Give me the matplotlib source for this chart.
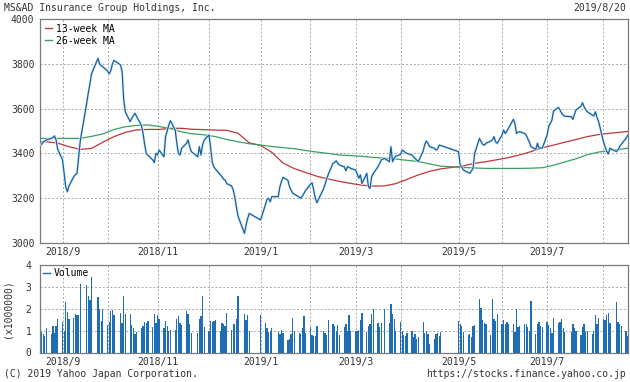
import pandas as pd
import matplotlib
matplotlib.use('Agg')
import matplotlib.pyplot as plt
import matplotlib.patheffects as pe
from matplotlib.lines import Line2D

# Tokyo market holidays inside the window
holidays = ['2018-09-17', '2018-09-24', '2018-10-08', '2018-11-23', '2018-12-24',
            '2018-12-31', '2019-01-01', '2019-01-02', '2019-01-03', '2019-01-14',
            '2019-02-11', '2019-03-21', '2019-04-29', '2019-04-30', '2019-05-01',
            '2019-05-02', '2019-05-03', '2019-05-06', '2019-07-15', '2019-08-12']

# daily close, one row per week
close = [
    3440, 3452, 3455, 3460,
    3467, 3470, 3478, 3460, 3418,
    3371, 3311, 3250, 3229, 3255,
    3296, 3305, 3311, 3385, 3455,
    3624, 3670, 3710, 3755,
    3824, 3800, 3792, 3787,
    3768, 3755, 3770, 3800, 3815,
    3795, 3765, 3640, 3585,
    3542, 3556, 3568, 3579, 3565,
    3525, 3490, 3440, 3400, 3392,
    3371, 3359, 3400, 3393, 3415,
    3385, 3475, 3500, 3527, 3546,
    3504, 3445, 3400, 3393, 3423,
    3445, 3460, 3430, 3408,
    3385, 3430, 3393, 3438, 3460,
    3482, 3425, 3360, 3340, 3330,
    3305, 3296, 3285, 3281, 3265,
    3255, 3237, 3205, 3160, 3120,
    3043, 3080, 3110, 3132,
    3103,
    3170, 3195, 3199, 3184, 3207,
    3207, 3251, 3275, 3293,
    3280, 3251, 3235, 3222, 3218,
    3205, 3199, 3210, 3222, 3235,
    3262, 3269, 3237, 3200, 3180,
    3240, 3260, 3284, 3305,
    3356, 3360, 3367, 3355, 3348,
    3340, 3323, 3341, 3338, 3333,
    3326, 3310, 3289, 3304, 3266,
    3311, 3251, 3244, 3296, 3310,
    3341, 3355, 3371, 3378,
    3363, 3430, 3363, 3378, 3388,
    3395, 3415, 3410, 3403, 3400,
    3393, 3385, 3378, 3370, 3363,
    3410, 3440, 3455, 3445, 3430,
    3423, 3415, 3420, 3437, 3435,
    3408, 3348, 3340, 3326,
    3315, 3311, 3322, 3333, 3400,
    3467, 3452, 3440, 3437, 3445,
    3455, 3460, 3475, 3452, 3445,
    3482, 3504, 3489, 3500, 3512,
    3552, 3534, 3489, 3495, 3497,
    3489, 3482, 3465, 3450, 3430,
    3418, 3445, 3423, 3425, 3423,
    3482, 3520, 3534, 3549, 3590,
    3605, 3594, 3580, 3571, 3566,
    3564, 3552, 3575, 3594,
    3610, 3626, 3608, 3595, 3586,
    3572, 3567, 3586, 3560, 3542,
    3452, 3430, 3410, 3397, 3423,
    3408, 3415, 3430, 3440,
    3467, 3480,
]

# daily volume (x1000000)
volume = [
    0.95, 0.85, 0.75, 1.1,
    0.85, 1.2, 0.9, 1.2, 1.55,
    1.4, 1.0, 2.3, 1.85, 1.55,
    1.6, 1.75, 1.7, 1.72, 3.15,
    3.1, 2.6, 2.4, 3.45,
    2.55, 2.0, 1.45, 2.0,
    1.25, 1.4, 1.9, 1.95, 1.7,
    1.8, 1.35, 2.6, 1.75,
    1.75, 1.25, 1.1, 0.85, 0.95,
    1.1, 1.2, 1.4, 1.35, 1.45,
    1.15, 1.75, 1.35, 1.7, 1.55,
    1.1, 1.45, 1.2, 1.0, 1.05,
    1.05, 1.55, 1.65, 1.35, 1.25,
    1.9, 1.75, 1.3, 0.9,
    0.9, 1.55, 1.65, 2.6, 1.15,
    1.0, 1.45, 1.4, 1.45, 1.5,
    1.0, 1.35, 1.3, 1.2, 1.8,
    1.05, 1.3, 1.3, 1.55, 2.6,
    1.75, 1.5, 1.7, 1.0,
    1.7,
    1.35, 1.1, 0.95, 1.0, 1.1,
    0.95, 0.85, 1.05, 0.9,
    0.55, 0.6, 0.85, 1.6, 1.0,
    0.9, 0.85, 1.1, 1.65, 0.9,
    1.15, 0.8, 0.75, 0.75, 1.2,
    1.0, 0.9, 0.8, 1.5,
    1.3, 1.2, 1.0, 1.25, 0.8,
    1.15, 1.3, 1.0, 1.7, 1.0,
    1.0, 1.0, 1.05, 1.5, 1.8,
    0.95, 1.2, 1.3, 1.75, 2.0,
    1.35, 1.15, 1.35, 2.0,
    1.35, 2.2, 1.75, 1.55, 1.0,
    1.4, 1.0, 0.8, 0.75, 0.9,
    1.0, 0.7, 0.85, 0.6, 0.7,
    1.4, 0.9, 1.0, 0.85, 0.4,
    0.6, 0.85, 0.9, 0.75, 0.95,
    1.45, 1.3, 1.2, 0.95,
    0.8, 0.85, 0.7, 1.2, 1.25,
    2.45, 2.05, 1.5, 1.35, 1.3,
    0.8, 2.45, 1.55, 1.45, 1.75,
    1.3, 1.5, 1.3, 1.4, 1.3,
    1.3, 0.95, 2.0, 1.15, 1.2,
    1.3, 1.3, 1.15, 1.0, 2.35,
    0.85, 1.3, 1.4, 1.2, 1.15,
    1.4, 1.25, 1.1, 0.9, 1.6,
    1.35, 1.4, 1.55, 1.1, 0.95,
    0.95, 1.3, 1.1, 1.0,
    0.8, 1.15, 1.3, 0.95, 1.0,
    0.85, 1.0, 1.7, 1.3, 1.6,
    1.55, 1.5, 1.7, 1.8, 1.35,
    2.3, 1.4, 1.3, 1.2,
    1.0, 0.75,
]

# moving averages: first day, then last trading day of every week
ma13 = [3452, 3452, 3446, 3430, 3418, 3422, 3450, 3475, 3494, 3505,
        3507, 3507, 3512, 3512, 3508, 3506, 3504, 3503, 3490, 3447,
        3436, 3405, 3357, 3332, 3315, 3298, 3286, 3275, 3266, 3258,
        3254, 3255, 3265, 3284, 3304, 3320, 3331, 3344, 3356, 3363,
        3372, 3381, 3393, 3408, 3425, 3437, 3450, 3462, 3475, 3484,
        3490, 3495, 3498]
ma26 = [3467, 3467, 3467, 3467, 3467, 3476, 3487, 3507, 3519, 3525,
        3527, 3520, 3511, 3496, 3488, 3483, 3475, 3462, 3452, 3443,
        3437, 3431, 3426, 3421, 3413, 3406, 3400, 3393, 3390, 3387,
        3382, 3379, 3375, 3369, 3364, 3353, 3343, 3337, 3335, 3333,
        3333, 3333, 3333, 3334, 3336, 3347, 3362, 3376, 3394, 3406,
        3413, 3419, 3423]

grid_dates = ['2018-09-03', '2018-10-01', '2018-11-01', '2018-12-03', '2019-01-04', '2019-02-04',
              '2019-03-04', '2019-04-01', '2019-05-07', '2019-06-03', '2019-07-01', '2019-08-05']
grid_labels = ['2018/9', '', '2018/11', '', '2019/1', '', '2019/3', '', '2019/5', '', '2019/7', '']

dates = pd.bdate_range('2018-08-21', '2019-08-20')
dates = dates[~dates.isin(pd.to_datetime(holidays))]
d = pd.Series(dates)
week_last = d.groupby(d.dt.to_period('W')).last()
ma_dates = [dates[0]] + list(week_last)

plt.rcParams['font.family'] = 'DejaVu Sans Mono'
plt.rcParams['font.size'] = 7

W, H = 630, 382
fig = plt.figure(figsize=(W / 100, H / 100), dpi=100)
fig.patch.set_facecolor('white')

ax = fig.add_axes([40 / W, (H - 243) / H, 588 / W, 224 / H])
axv = fig.add_axes([40 / W, (H - 352.5) / H, 588 / W, 87.5 / H])

xlim = (pd.Timestamp('2018-08-20'), pd.Timestamp('2019-08-20 06:00'))
gd = pd.to_datetime(grid_dates)

for a in (ax, axv):
    a.set_xlim(xlim)
    a.set_xticks(gd)
    a.set_xticklabels(grid_labels)
    a.grid(True, color='#a8a8a8', linestyle=(0, (2, 2)), linewidth=0.7)
    a.set_axisbelow(True)
    a.tick_params(length=0, pad=3, labelcolor='#333333', labelsize=7)
    for s in a.spines.values():
        s.set_color('#7a7a7a')
        s.set_linewidth(0.9)

# price panel
ax.plot(ma_dates, ma13, color='#c0363a', linewidth=0.9, zorder=3)
ax.plot(ma_dates, ma26, color='#3aa060', linewidth=0.9, zorder=3)
ax.plot(dates, close, color='#1c5b9c', linewidth=0.9, zorder=4,
        path_effects=[pe.Stroke(linewidth=2.0, foreground='#d6f2fb'), pe.Normal()])
ax.set_ylim(3000, 4000)
ax.set_yticks([3000, 3200, 3400, 3600, 3800, 4000])
ax.tick_params(axis='y', pad=4)

handles = [Line2D([], [], color='#c0363a', lw=1), Line2D([], [], color='#3aa060', lw=1)]
ax.legend(handles, ['13-week MA', '26-week MA'], loc='upper left', frameon=False,
          handlelength=0.7, handletextpad=0.4, labelspacing=0.2, borderaxespad=0.2,
          borderpad=0.3, prop={'size': 7})

# volume panel
axv.bar(dates, volume, width=0.8, color='#1f6db5', zorder=3)
axv.set_ylim(0, 4)
axv.set_yticks([0, 1, 2, 3, 4])
axv.tick_params(axis='y', pad=6)
axv.legend([Line2D([], [], color='#1f6db5', lw=1)], ['Volume'], loc='upper left',
           frameon=False, handlelength=0.7, handletextpad=0.4, borderaxespad=0.0,
           borderpad=0.3, prop={'size': 7})

fig.text(8 / W, 1 - 309 / H, '(x1000000)', rotation=90, ha='center', va='center',
         color='#333333', fontsize=7)

fig.text(4 / W, 1 - 8 / H, 'MS&AD Insurance Group Holdings, Inc.', ha='left', va='center',
         color='#333333', fontsize=7)
fig.text(626 / W, 1 - 8 / H, '2019/8/20', ha='right', va='center', color='#333333', fontsize=7)
fig.text(4 / W, 1 - 374 / H, '(C) 2019 Yahoo Japan Corporation.', ha='left', va='center',
         color='#333333', fontsize=7)
fig.text(626 / W, 1 - 374 / H, 'https://stocks.finance.yahoo.co.jp', ha='right', va='center',
         color='#333333', fontsize=7)

fig.savefig('out.png', dpi=100)
